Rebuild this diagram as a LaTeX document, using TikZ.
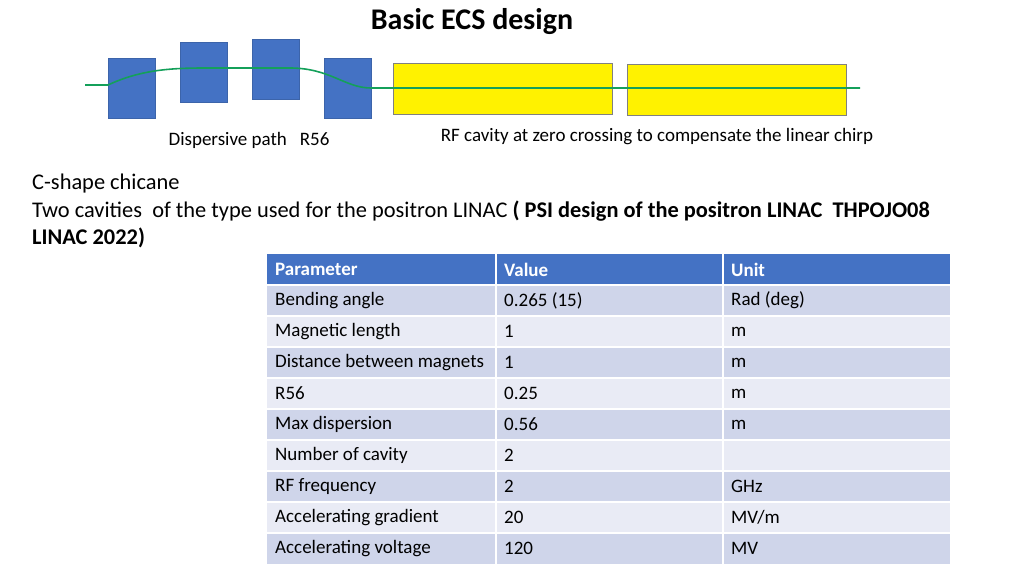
\documentclass[tikz,border=0pt]{standalone}
\usepackage{fontspec}
\setmainfont{Carlito}
\definecolor{hdr}{RGB}{68,114,196}
\definecolor{rowa}{RGB}{207,213,234}
\definecolor{rowb}{RGB}{233,235,245}
\definecolor{bluebox}{RGB}{68,114,196}
\definecolor{blueedge}{RGB}{60,100,170}
\definecolor{beamc}{RGB}{20,160,90}
\begin{document}
\begin{tikzpicture}[x=1pt,y=-1pt,
  bl/.style={fill=bluebox,draw=blueedge,line width=0.4pt},
  cav/.style={fill=yellow,draw=gray,line width=0.6pt},
  beam/.style={draw=beamc,line width=1.6pt},
  cell/.style={anchor=west,font=\fontsize{19}{22}\selectfont,inner sep=0pt},
  hcell/.style={cell,text=white,font=\fontsize{19}{22}\selectfont\bfseries}]
\useasboundingbox (0,0) rectangle (1024,576);
\node[font=\fontsize{30}{34}\selectfont\bfseries] (title) at (472,22) {Basic ECS design};
\path[bl] (108,58) rectangle (155,118);
\path[bl] (180,42) rectangle (227,102);
\path[bl] (252,39) rectangle (299,99);
\path[bl] (324,58) rectangle (371,118);
\path[cav] (393,63) rectangle (612,114);
\path[cav] (627,64) rectangle (846,115);
\draw[beam] (85,85) -- (108,85) .. controls (140,70) and (170,68) .. (205,68) -- (290,68) .. controls (330,68) and (345,88) .. (371,88) -- (860,88);
\node[font=\fontsize{19}{22}\selectfont] (d) at (249,140) {Dispersive path~~ R56};
\node[font=\fontsize{19}{22}\selectfont] (rf) at (657,137) {RF cavity at zero crossing to compensate the linear chirp};
\node[anchor=west,font=\fontsize{22.4}{26}\selectfont,inner sep=0pt] (c1) at (32,184) {C-shape chicane};
\node[anchor=west,font=\fontsize{22.4}{26}\selectfont,inner sep=0pt] (c2) at (32,211) {Two cavities~ of the type used for the positron LINAC \textbf{( PSI design of the positron LINAC~ THPOJO08}};
\node[anchor=west,font=\fontsize{22.4}{26}\selectfont\bfseries,inner sep=0pt] (c3) at (32,238) {LINAC 2022)};
% table
\fill[hdr] (267,254) rectangle (950,285);
\foreach \i in {0,...,8}{
  \pgfmathsetmacro{\yt}{285+31*\i}
  \ifodd\i \fill[rowb] (267,\yt) rectangle (950,\yt+31);
  \else \fill[rowa] (267,\yt) rectangle (950,\yt+31); \fi
}
\foreach \y in {285,316,347,378,409,440,471,502,533} \draw[white,line width=1.5pt] (267,\y) -- (950,\y);
\draw[white,line width=1.5pt] (496,254) -- (496,564) (723,254) -- (723,564);
\node[hcell] (h1) at (275,269.5) {Parameter};
\node[hcell] (h2) at (504,269.5) {Value};
\node[hcell] (h3) at (731,269.5) {Unit};
\foreach \a/\b/\c [count=\k from 0] in {Bending angle/0.265 (15)/Rad (deg),Magnetic length/1/m,Distance between magnets/1/m,R56/0.25/m,Max dispersion/0.56/m,Number of cavity/2/{},RF frequency/2/GHz,Accelerating gradient/20/{MV/m},Accelerating voltage/120/MV}{
  \node[cell] (p\k) at (275,300.5+31*\k) {\a};
  \node[cell] (v\k) at (504,300.5+31*\k) {\b};
  \node[cell] (u\k) at (731,300.5+31*\k) {\c};
}
\end{tikzpicture}
\end{document}
